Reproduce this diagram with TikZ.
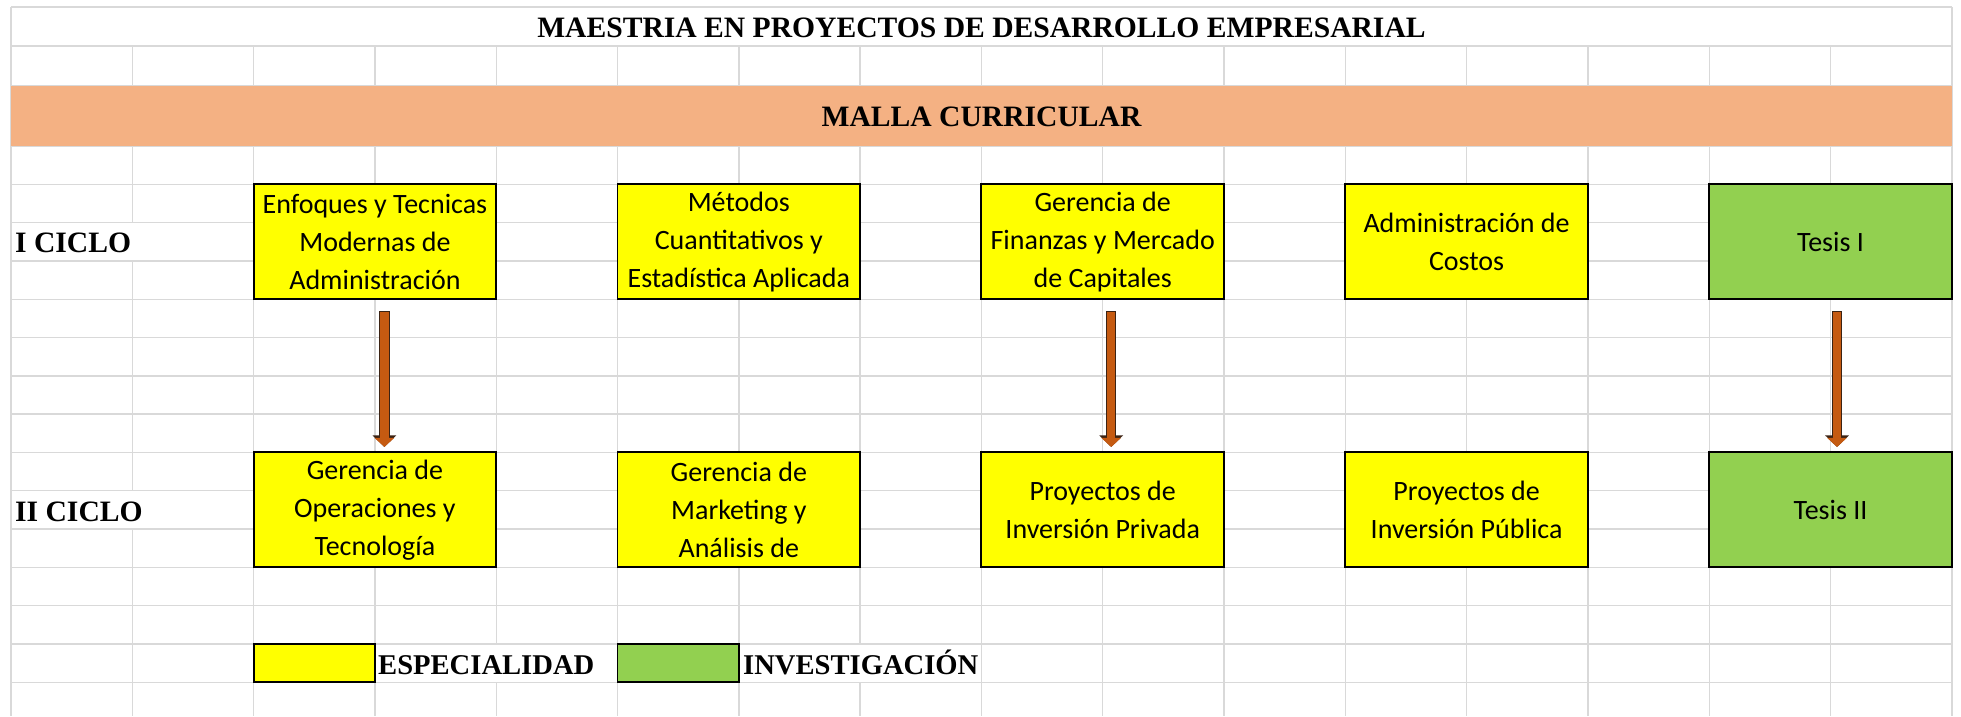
\documentclass[tikz,border=0pt]{standalone}
\usepackage{fontspec}
\setmainfont{Liberation Serif}
\newfontfamily\boxfont{Carlito}
\usetikzlibrary{arrows.meta}
\definecolor{gridgray}{HTML}{D9D9D9}
\definecolor{bandorange}{HTML}{F4B183}
\definecolor{cellyellow}{HTML}{FFFF00}
\definecolor{cellgreen}{HTML}{92D050}
\definecolor{arroworange}{HTML}{C55A11}
\definecolor{arrowedge}{HTML}{3B2314}
\begin{document}
\begin{tikzpicture}[x=1pt,y=-1pt,
  gridline/.style={draw=gridgray,line width=1.4pt},
  course/.style={draw=black,line width=1.9pt,minimum width=242.6pt,minimum height=114.9pt,
    inner sep=0pt,align=center,font=\boxfont\fontsize{28}{38}\selectfont},
  spec/.style={course,fill=cellyellow},
  inv/.style={course,fill=cellgreen},
  heading/.style={font=\bfseries\fontsize{29.6}{34}\selectfont,inner sep=0pt},
  legendtext/.style={font=\bfseries\fontsize{28.6}{34}\selectfont,inner sep=0pt},
  legendbox/.style={draw=black,line width=1.9pt,inner sep=0pt,minimum width=121.3pt,minimum height=38.3pt},
  flow/.style={draw=arroworange,line width=8.3pt,-{Triangle[width=19pt,length=9pt]},
    preaction={draw=arrowedge,line width=10.5pt,-{Triangle[width=23pt,length=11.5pt]},shorten <=-1pt}}
]
\useasboundingbox (0,0) rectangle (1961,716);
\fill[white] (0,0) rectangle (1961,716);
% horizontal grid lines
\foreach \yy in {7,46,85.7} \draw[gridline] (11,\yy) -- (1952,\yy);
\foreach \i in {0,...,14} \draw[gridline] (11,{146+38.3*\i}) -- (1952,{146+38.3*\i});
% outer vertical lines
\draw[gridline] (11,7) -- (11,716);
\draw[gridline] (1952,7) -- (1952,716);
% interior vertical lines, row 2
\foreach \k in {1,...,15} \draw[gridline] ({11+121.3*\k},46) -- ({11+121.3*\k},85.7);
% interior vertical lines, lower part
\foreach \k in {2,3,5,6,8,9,10,11,12,13,14,15} \draw[gridline] ({11+121.3*\k},146) -- ({11+121.3*\k},716);
\draw[gridline] (132.3,146) -- (132.3,222.6) (132.3,260.9) -- (132.3,490.7) (132.3,529) -- (132.3,716);
\foreach \k in {4,7} \draw[gridline] ({11+121.3*\k},146) -- ({11+121.3*\k},643.9) ({11+121.3*\k},682.2) -- ({11+121.3*\k},716);
% orange band
\fill[bandorange] (11,85.7) rectangle (1952,146);
% headings
\node[heading,anchor=base] (title) at (981.5,37) {MAESTRIA EN PROYECTOS DE DESARROLLO EMPRESARIAL};
\node[heading,anchor=base] (malla) at (981.5,126) {MALLA CURRICULAR};
\node[heading,anchor=base west] (ciclo1) at (15,252) {I CICLO};
\node[heading,anchor=base west] (ciclo2) at (15,521) {II CICLO};
% courses, cycle I
\node[spec] (c1) at (374.9,241.75) {Enfoques y Tecnicas\\Modernas de\\Administración};
\node[spec] (c2) at (738.8,241.75) {Métodos\\Cuantitativos y\\Estadística Aplicada};
\node[spec] (c3) at (1102.7,241.75) {Gerencia de\\Finanzas y Mercado\\de Capitales};
\node[spec] (c4) at (1466.6,241.75) {Administración de\\Costos};
\node[inv] (c5) at (1830.5,241.75) {Tesis I};
% courses, cycle II
\node[spec] (c6) at (374.9,509.85) {Gerencia de\\Operaciones y\\Tecnología};
\node[spec] (c7) at (738.8,509.85) {Gerencia de\\Marketing y\\Análisis de};
\node[spec] (c8) at (1102.7,509.85) {Proyectos de\\Inversión Privada};
\node[spec] (c9) at (1466.6,509.85) {Proyectos de\\Inversión Pública};
\node[inv] (c10) at (1830.5,509.85) {Tesis II};
% arrows
\draw[flow] ([xshift=9.5pt,yshift=-12pt]c1.south) -- ([xshift=9.5pt,yshift=4.5pt]c6.north);
\draw[flow] ([xshift=8.5pt,yshift=-12pt]c3.south) -- ([xshift=8.5pt,yshift=4.5pt]c8.north);
\draw[flow] ([xshift=6.5pt,yshift=-12pt]c5.south) -- ([xshift=6.5pt,yshift=4.5pt]c10.north);
% legend
\node[legendbox,fill=cellyellow] (ly) at (314.25,663.05) {};
\node[legendtext,anchor=base west] (lyt) at (378,674) {ESPECIALIDAD};
\node[legendbox,fill=cellgreen] (lg) at (678.15,663.05) {};
\node[legendtext,anchor=base west] (lgt) at (743,674) {INVESTIGACIÓN};
\end{tikzpicture}
\end{document}
